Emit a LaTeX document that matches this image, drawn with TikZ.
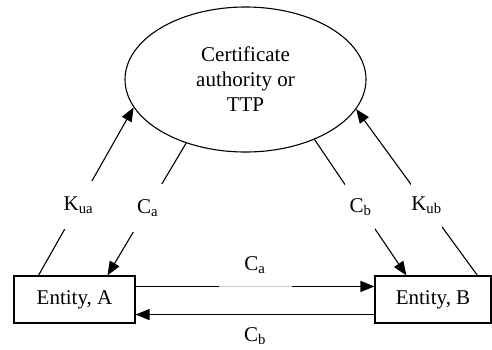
\documentclass[tikz,border=0pt]{standalone}
\usepackage{fontspec}
\setmainfont{Liberation Serif}
\usetikzlibrary{arrows.meta,shapes.geometric,calc}
\tikzset{
  txt/.style={font=\fontsize{21}{25}\selectfont},
  wire/.style={line width=1.1pt},
  arr/.style={wire,-{Triangle[length=14pt,width=11pt]}},
  boxnode/.style={draw,line width=1.1pt,rectangle,minimum height=47pt,inner sep=0pt,txt},
  tag/.style={txt,fill=white,inner sep=0pt,minimum width=30pt,minimum height=48pt},
}
\begin{document}
\begin{tikzpicture}[x=1pt,y=-1pt]
\useasboundingbox (0,0) rectangle (492,349);

% authority and the two entities
\node[draw,ellipse,line width=1.1pt,minimum width=241pt,minimum height=145pt,inner sep=0pt,align=center,txt]
  (ca) at (245.5,79.5) {Certificate\\authority or\\TTP};
\node[boxnode,minimum width=121pt] (A) at (74.5,299.5) {Entity, A};
\node[boxnode,minimum width=116pt] (B) at (433,299.5) {Entity, B};

% attachment points on the top edges of the boxes
\coordinate (a1) at ($(A.north west)+(25,0)$);
\coordinate (a2) at ($(A.north west)+(94,0)$);
\coordinate (b1) at ($(B.north west)+(32,0)$);
\coordinate (b2) at ($(B.north west)+(103,0)$);

% public keys sent up, certificates sent down
\draw[arr] (a1) -- node[tag,pos=0.42] {K\textsubscript{ua}} (ca.194.5);
\draw[arr] (ca.227) -- node[tag,pos=0.49] {C\textsubscript{a}} (a2);
\draw[arr] (ca.319.7) -- node[tag,pos=0.5] {C\textsubscript{b}} (b1);
\draw[arr] (b2) -- node[tag,pos=0.42] {K\textsubscript{ub}} (ca.345.9);

% certificate exchange between the entities
\draw[arr] ([yshift=-11pt]A.north east) -- node[txt,pos=0.5,fill=white,fill opacity=0.8,text opacity=1,
  inner sep=0pt,minimum width=73pt,minimum height=44pt,yshift=21pt] {C\textsubscript{a}}
  ([yshift=-11pt]B.north west);
\draw[arr] ([yshift=9pt]B.south west) -- node[txt,pos=0.5,inner sep=0pt,yshift=-22pt] {C\textsubscript{b}}
  ([yshift=9pt]A.south east);
\end{tikzpicture}
\end{document}
